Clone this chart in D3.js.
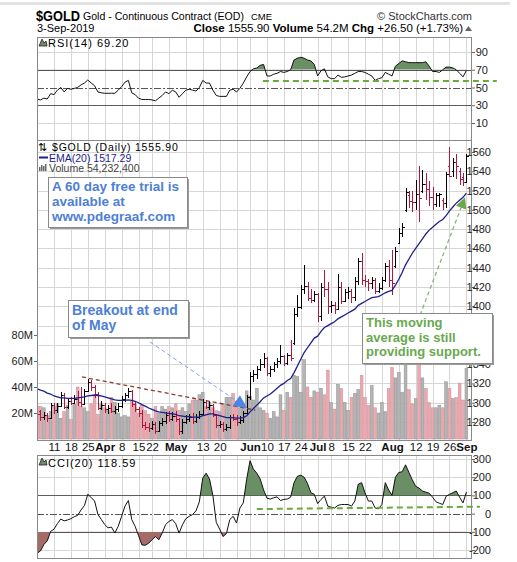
<!DOCTYPE html>
<html>
<head>
<meta charset="utf-8">
<script src="https://cdn.jsdelivr.net/npm/d3@7"></script>
<style>
  body { margin: 0; background: #fff; }
  text { font-family: "Liberation Sans", Arial, sans-serif; }
</style>
</head>
<body>
<svg id="chart" width="517" height="562"></svg>
<script>
// one value per trading day, 4-Mar-2019 .. 3-Sep-2019
var opens = [1294,1291,1285,1287,1284,1298,1292,1297,1308,1296,1302,1300,1304,1301,1299,1312,1322,1316,1309,1295,1298,
  1293,1295,1291,1293,1297,1304,1308,1312,1299,1294,1289,1277,1275,1274,1278,1271,1279,1281,1287,1283,
  1286,1283,1271,1280,1283,1285,1281,1285,1288,1301,1296,1298,1287,1277,1278,1273,1275,1285,1283,1280,
  1282,1289,1306,1328,1330,1335,1340,1346,1331,1335,1340,1343,1348,1341,1350,1362,1392,1399,1418,1421,
  1409,1407,1413,1390,1420,1418,1400,1401,1397,1420,1405,1415,1416,1410,1426,1447,1427,1426,1424,1427,
  1416,1419,1427,1442,1427,1442,1466,1476,1500,1515,1509,1508,1516,1520,1527,1522,1513,1506,1515,1510,
  1507,1545,1540,1550,1540,1534,1529];
var highs = [1296,1292,1290,1289,1300,1300,1300,1311,1310,1305,1306,1308,1312,1316,1314,1325,1324,1318,1311,1302,1300,
  1298,1300,1297,1300,1307,1310,1315,1313,1302,1296,1292,1280,1279,1281,1280,1281,1284,1290,1291,1290,
  1291,1284,1283,1287,1288,1289,1288,1291,1304,1303,1302,1299,1288,1281,1280,1278,1287,1288,1287,1286,
  1291,1308,1332,1334,1338,1345,1352,1347,1338,1342,1346,1360,1350,1352,1365,1398,1412,1422,1443,1425,
  1418,1416,1414,1424,1438,1425,1405,1404,1433,1425,1418,1420,1418,1430,1450,1455,1432,1428,1430,1429,
  1424,1430,1445,1448,1458,1461,1481,1486,1523,1520,1520,1531,1546,1541,1538,1530,1524,1518,1518,1512,
  1539,1565,1554,1558,1543,1538,1558];
var lows = [1282,1281,1282,1280,1283,1288,1289,1296,1294,1294,1298,1299,1297,1296,1298,1311,1312,1305,1292,1292,1289,
  1288,1289,1288,1290,1295,1301,1305,1296,1290,1285,1274,1272,1270,1272,1268,1270,1276,1278,1280,1281,
  1280,1267,1268,1278,1280,1278,1279,1283,1287,1293,1292,1285,1274,1274,1270,1271,1273,1281,1276,1278,
  1279,1287,1303,1321,1325,1333,1336,1328,1327,1332,1336,1340,1338,1339,1343,1360,1389,1397,1413,1405,
  1403,1404,1384,1385,1410,1392,1393,1392,1396,1402,1404,1408,1403,1406,1422,1422,1420,1416,1418,1413,
  1414,1417,1425,1420,1412,1440,1465,1472,1498,1502,1498,1500,1487,1518,1510,1504,1500,1503,1503,1500,
  1502,1534,1534,1532,1526,1525,1528];
var closes = [1288,1285,1287,1284,1298,1292,1297,1308,1296,1302,1300,1304,1301,1299,1312,1322,1316,1309,1295,1298,1293,
  1295,1291,1293,1297,1304,1308,1312,1299,1294,1289,1277,1275,1274,1278,1271,1279,1281,1287,1283,1286,
  1283,1271,1280,1283,1285,1281,1285,1288,1301,1296,1298,1287,1277,1278,1273,1275,1285,1283,1280,1282,
  1289,1306,1328,1330,1335,1340,1346,1331,1335,1340,1343,1348,1341,1350,1346,1392,1399,1418,1421,1409,
  1407,1413,1390,1420,1418,1400,1401,1397,1420,1405,1415,1416,1410,1426,1447,1427,1426,1424,1427,1416,
  1419,1427,1442,1427,1424,1457,1476,1482,1519,1509,1508,1516,1512,1527,1522,1513,1506,1515,1516,1507,
  1537,1535,1550,1546,1532,1529,1555.9];
var volumes = [25,25,24,18,21,25,27,16,21,26,15,27,40,25,24,21,27,33,19,27,24,
  22,32,28,20,17,18,17,29,27,20,26,22,19,16,25,20,25,23,25,24,
  27,22,24,21,27,30,30,34,36,25,28,24,22,21,27,32,32,35,29,24,
  26,37,33,30,39,24,22,20,16,21,17,34,22,36,32,49,48,36,61,40,
  32,37,36,39,34,53,28,23,42,39,28,22,32,35,38,49,32,26,41,24,
  20,28,21,39,55,47,51,36,59,38,27,31,59,47,39,28,24,24,26,24,
  44,39,31,32,43,30,54.2];
var ema20 = [1314.5,1313,1312,1310,1309,1307,1306,1305,1305,1304.5,1304.5,1304.5,1305,1305.5,1306,1307,1307.5,1308,1307.5,1307,1306,
  1305,1304,1303,1302.5,1302.5,1302.5,1303,1302.5,1301.5,1300,1298,1296.5,1294.5,1293,1291.5,1290.5,1290,1289.5,1289,1288.5,
  1288,1286.5,1286,1285.5,1285.5,1285,1285,1285,1286.5,1287.5,1288.5,1288.5,1287.5,1286.5,1285.5,1284.5,1284.5,1284.5,1284,1284,
  1284.5,1286.5,1290.5,1294,1297.5,1301,1305,1307,1309,1312,1315,1318,1320,1323,1325,1331,1338,1345,1352,1357,
  1362,1367,1369,1374,1378,1380,1382,1384,1387,1389,1391,1393,1395,1397,1401,1403,1405,1407,1409,1409.5,
  1410,1412,1414,1415.5,1416.5,1422,1428,1435,1443,1449,1455,1460,1465,1470,1475,1479,1482,1485,1488,1490,
  1494,1499,1503,1507,1510,1513,1517.29];
var rsi14 = [37,36,38,37,43,42,47,50,45,49,48,49,50,53,55,58.5,55,52,45,44,43.5,
  43.5,43.5,43.5,47,51,56,58,44,42,38,36.5,36.5,36.5,36,35,38,41,45,43,47,
  45,39,43,47,48,47,46,50,58,55,55,47,41,40,40,40,47,48,45,49,
  55,62,68,71,72,75,76,63,63,65,66,68,67,68,70,81,83,84,83,81,
  80,76,63,69,71,62,60,60,64,61.5,62,63,64,66,68,68,67,65,63,58,
  60,61,67,65,63,74,77,80,79,78,78,78,78,78,79,74,68,68,67,70,
  73,73,72,70,66,62,69.2];
var cci20 = [-218,-205,-170,-150,-98,-85,-55,-30,-40,-35,-28,-17,-10,20,44,106,88,70,-5,-32,-60,
  -78,-74,-107,-70,-15,41,72,-33,-70,-120,-172,-174,-163,-144,-126,-144,-107,-61,-43,-33,
  -55,-107,-61,-28,-15,-5,15,65,195,222,190,100,-48,-85,-126,-110,-33,-15,-52,31,
  59,189,291,244,222,190,130,85,80,87,92,72,78,80,90,170,205,211,200,165,
  115,106,55,78,96,41,35,31,45,50,50,50,41,69,161,170,115,69,69,31,
  26,50,170,130,100,200,226,230,268,226,185,150,140,124,118,112,90,65,57,50,
  95,106,115,124,90,59,118.59];

var holidays = ["2019-04-19", "2019-05-27", "2019-07-04", "2019-09-02"];
var tickDays = ["2019-03-11","2019-03-18","2019-03-25","2019-04-01","2019-04-08","2019-04-15","2019-04-22",
  "2019-05-01","2019-05-13","2019-05-20","2019-06-03","2019-06-10","2019-06-17","2019-06-24","2019-07-01",
  "2019-07-08","2019-07-15","2019-07-22","2019-08-01","2019-08-12","2019-08-19","2019-08-26","2019-09-03"];
var tickLabels = ["11","18","25","Apr","8","15","22","May","13","20","Jun","10","17","24","Jul",
  "8","15","22","Aug","12","19","26","Sep"];

var priceTicks = [1280,1300,1320,1340,1360,1380,1400,1420,1440,1460,1480,1500,1520,1540,1560];
var volTicks = [20,40,60,80];
var rsiTicks = [10,30,50,70,90];
var cciTicks = [-200,-100,0,100,200,300];

// annotations, in [day index, value]
var rsiSupport = [[66.8, 57.3], [136, 57.3]];
var cciSupport = [[65, 25], [131, 38]];
var emaArrow = [[113.3, 1391], [126.6, 1513]];
var breakoutArrow = [[33.4, 1363], [62.1, 1294.5]];
var downTrend = [[13.3, 1326.7], [64.5, 1292.4]];

var fmt = d3.timeFormat("%Y-%m-%d");
var parse = d3.timeParse("%Y-%m-%d");
var days = d3.timeDay.range(new Date(2019, 2, 4), new Date(2019, 8, 4))
  .filter(d => d.getDay() % 6 != 0 && holidays.indexOf(fmt(d)) < 0)
  .map(fmt);

var left = 37, right = 472;
var rsiP = {top: 37, bottom: 140}, mainP = {top: 140, bottom: 440}, cciP = {top: 455, bottom: 558};

var svg = d3.select("#chart");
var defs = svg.append("defs");

var x = d3.scaleLinear().domain([0, days.length - 1]).range([37.1, 466.4]);
var rsiY = d3.scaleLinear().domain([10, 90]).range([123, 52]);
var priceY = d3.scaleLinear().domain([1280, 1560]).range([422, 152]);
var volY = d3.scaleLinear().domain([0, 80]).range([439, 335]);
var cciY = d3.scaleLinear().domain([-200, 300]).range([550, 459]);

var weekStarts = d3.range(1, days.length).filter(i =>
  +d3.timeMonday.floor(parse(days[i])) != +d3.timeMonday.floor(parse(days[i - 1])));

var up = (i) => i == 0 ? closes[0] >= opens[0] : closes[i] >= closes[i - 1];

// header
svg.append("rect").attr("x", 0).attr("y", 2).attr("width", 510).attr("height", 3).attr("fill", "#e3e3e3");
svg.append("text").attr("x", 36).attr("y", 21).attr("font-size", 15).attr("font-weight", "bold")
  .attr("textLength", 44).attr("lengthAdjust", "spacingAndGlyphs").text("$GOLD");
svg.append("text").attr("x", 83).attr("y", 20).attr("font-size", 11.5)
  .attr("textLength", 161).attr("lengthAdjust", "spacingAndGlyphs").text("Gold - Continuous Contract (EOD)");
svg.append("text").attr("x", 251).attr("y", 20).attr("font-size", 9.5).text("CME");
svg.append("text").attr("x", 472).attr("y", 20).attr("font-size", 11).attr("text-anchor", "end")
  .attr("fill", "#333").text("\u00a9 StockCharts.com");
svg.append("text").attr("x", 37).attr("y", 32).attr("font-size", 11).text("3-Sep-2019");
var hdr = svg.append("text").attr("x", 463).attr("y", 32).attr("font-size", 11.5).attr("text-anchor", "end");
hdr.append("tspan").attr("font-weight", "bold").text("Close ");
hdr.append("tspan").text("1555.90  ");
hdr.append("tspan").attr("font-weight", "bold").text("Volume ");
hdr.append("tspan").text("54.2M  ");
hdr.append("tspan").attr("font-weight", "bold").text("Chg ");
hdr.append("tspan").text("+26.50 (+1.73%)");
svg.append("path").attr("d", "M465,31 L468.5,26 L472,31 Z").attr("fill", "#666");

function panel(p, id) {
  defs.append("clipPath").attr("id", id).append("rect")
    .attr("x", left).attr("y", p.top).attr("width", right - left).attr("height", p.bottom - p.top);
  var g = svg.append("g");
  g.append("g").selectAll("line").data(weekStarts).join("line")
    .attr("x1", i => Math.round(x(i)) + 0.5).attr("x2", i => Math.round(x(i)) + 0.5)
    .attr("y1", p.top).attr("y2", p.bottom)
    .attr("stroke", "#d6d6d6").attr("stroke-width", 1);
  return g;
}

function hline(g, y, kind) {
  var l = g.append("line").attr("x1", left).attr("x2", right)
    .attr("y1", Math.round(y) + 0.5).attr("y2", Math.round(y) + 0.5);
  if (kind == "light") l.attr("stroke", "#d6d6d6");
  else if (kind == "dash") l.attr("stroke", "#555").attr("stroke-dasharray", "7,2,2,2");
  else l.attr("stroke", "#555");
}

function border(p) {
  svg.append("rect").attr("x", left + 0.5).attr("y", p.top + 0.5)
    .attr("width", right - left - 1).attr("height", p.bottom - p.top)
    .attr("fill", "none").attr("stroke", "#888");
}

function rightAxis(scale, ticks, edge) {
  var ax = svg.append("g").attr("transform", "translate(" + right + ",0)")
    .call(d3.axisRight(scale).tickValues(ticks).tickSize(3).tickFormat(d => d));
  ax.select(".domain").remove();
  ax.selectAll("line").attr("stroke", "#666");
  ax.selectAll("text").attr("x", edge).attr("text-anchor", "end")
    .attr("font-size", 11).attr("fill", "#222").attr("font-family", "Liberation Sans, Arial, sans-serif");
}

function mountain(x0, y0) {
  svg.append("path").attr("d", "M" + x0 + "," + (y0 + 7) + " L" + (x0 + 3) + "," + y0 + " L" + (x0 + 5) + "," + (y0 + 4) +
    " L" + (x0 + 7) + "," + (y0 + 2) + " L" + (x0 + 8) + "," + (y0 + 7) + " Z")
    .attr("fill", "#6a8f64").attr("stroke", "#222").attr("stroke-width", 0.8);
}

function osc(g, data, yS, hi, lo, clipId, p) {
  defs.append("clipPath").attr("id", clipId + "hi").append("rect")
    .attr("x", left).attr("y", p.top).attr("width", right - left).attr("height", yS(hi) - p.top);
  defs.append("clipPath").attr("id", clipId + "lo").append("rect")
    .attr("x", left).attr("y", yS(lo)).attr("width", right - left).attr("height", p.bottom - yS(lo));
  var cg = g.append("g").attr("clip-path", "url(#" + clipId + ")");
  cg.append("g").attr("clip-path", "url(#" + clipId + "hi)").append("path")
    .attr("d", d3.area().x((d, i) => x(i)).y0(yS(hi)).y1(d => yS(d))(data))
    .attr("fill", "#6a8f64");
  cg.append("g").attr("clip-path", "url(#" + clipId + "lo)").append("path")
    .attr("d", d3.area().x((d, i) => x(i)).y0(yS(lo)).y1(d => yS(d))(data))
    .attr("fill", "#a56b66");
  cg.append("path").attr("d", d3.line().x((d, i) => x(i)).y(d => yS(d))(data))
    .attr("fill", "none").attr("stroke", "#111").attr("stroke-width", 1);
}

function dashed(pts, xs, ys, color, width, dash) {
  return svg.append("line")
    .attr("x1", xs(pts[0][0])).attr("y1", ys(pts[0][1]))
    .attr("x2", xs(pts[1][0])).attr("y2", ys(pts[1][1]))
    .attr("stroke", color).attr("stroke-width", width).attr("stroke-dasharray", dash);
}

function arrowHead(pts, len, half, color) {
  var x0 = x(pts[0][0]), y0 = priceY(pts[0][1]), x1 = x(pts[1][0]), y1 = priceY(pts[1][1]);
  var d = Math.hypot(x1 - x0, y1 - y0), ux = (x1 - x0) / d, uy = (y1 - y0) / d;
  var bx = x1 - ux * len, by = y1 - uy * len;
  svg.append("path").attr("d", "M" + x1 + "," + y1 + " L" + (bx - uy * half) + "," + (by + ux * half) +
    " L" + (bx + uy * half) + "," + (by - ux * half) + " Z").attr("fill", color);
}

// RSI panel
var rg = panel(rsiP, "clipRsi");
hline(rg, rsiY(90), "light");
hline(rg, rsiY(10), "light");
hline(rg, rsiY(70));
hline(rg, rsiY(30));
hline(rg, rsiY(50), "dash");
osc(rg, rsi14, rsiY, 70, 30, "clipRsi", rsiP);
border(rsiP);
rightAxis(rsiY, rsiTicks, 16);
mountain(39, 39);
svg.append("text").attr("x", 48).attr("y", 46.5).attr("font-size", 11).attr("letter-spacing", 1)
  .text("RSI(14) 69.20");

// price + volume panel
var mg = panel(mainP, "clipMain");
priceTicks.forEach(v => hline(mg, priceY(v), "light"));
var inner = mg.append("g").attr("clip-path", "url(#clipMain)");
inner.append("g").selectAll("rect").data(volumes).join("rect")
  .attr("x", (d, i) => x(i) - 1.4).attr("width", 2.8)
  .attr("y", d => volY(d)).attr("height", d => volY(0) - volY(d))
  .attr("fill", (d, i) => up(i) ? "#b4b4b4" : "#eaa9b0")
  .attr("stroke", (d, i) => up(i) ? "#8e8e8e" : "#cf8d96").attr("stroke-width", 0.5);

var barG = inner.append("g").attr("shape-rendering", "crispEdges");
barG.selectAll("path").data(closes).join("path")
  .attr("d", (c, i) => {
    var xx = Math.round(x(i)) + 0.5;
    return "M" + xx + "," + priceY(highs[i]) + "V" + priceY(lows[i]) +
      "M" + (xx - 2) + "," + Math.round(priceY(opens[i])) + "H" + xx +
      "M" + xx + "," + Math.round(priceY(c)) + "H" + (xx + 2);
  })
  .attr("fill", "none").attr("stroke", (c, i) => up(i) ? "#000" : "#b2183f").attr("stroke-width", 1);

inner.append("path").attr("d", d3.line().x((d, i) => x(i)).y(d => priceY(d))(ema20))
  .attr("fill", "none").attr("stroke", "#1e1e8c").attr("stroke-width", 1.3);
border(mainP);
rightAxis(priceY, priceTicks, 19);

var va = svg.append("g").attr("transform", "translate(" + left + ",0)")
  .call(d3.axisLeft(volY).tickValues(volTicks).tickSize(3).tickPadding(1).tickFormat(d => d + "M"));
va.select(".domain").remove();
va.selectAll("line").attr("stroke", "#666");
va.selectAll("text").attr("font-size", 11).attr("fill", "#222").attr("font-family", "Liberation Sans, Arial, sans-serif");

// legend
svg.append("text").attr("x", 38).attr("y", 151).attr("font-size", 11).attr("font-family", "DejaVu Sans")
  .text("\u21c5");
svg.append("text").attr("x", 52).attr("y", 151).attr("font-size", 10.5).attr("letter-spacing", 0.8)
  .text("$GOLD (Daily) 1555.90");
svg.append("line").attr("x1", 39).attr("x2", 48).attr("y1", 157.5).attr("y2", 157.5)
  .attr("stroke", "#1e1e8c").attr("stroke-width", 2);
svg.append("text").attr("x", 49).attr("y", 161.5).attr("font-size", 10.5).attr("fill", "#1e1e8c")
  .text("EMA(20) 1517.29");
[[39, 4], [41, 6], [43, 5], [45, 7]].forEach(b => svg.append("rect").attr("x", b[0]).attr("y", 171 - b[1])
  .attr("width", 1.5).attr("height", b[1]).attr("fill", "#666"));
svg.append("text").attr("x", 49).attr("y", 171.5).attr("font-size", 10.5).attr("fill", "#444")
  .text("Volume 54,232,400");

// x axis
var tickIdx = tickDays.map(d => days.indexOf(d));
var xa = svg.append("g").attr("transform", "translate(0," + mainP.bottom + ")")
  .call(d3.axisBottom(x).tickValues(tickIdx).tickSize(0).tickPadding(3).tickFormat((d, k) => tickLabels[k]));
xa.select(".domain").remove();
xa.selectAll("text").attr("font-size", 11.5).attr("fill", "#111")
  .attr("font-family", "Liberation Sans, Arial, sans-serif")
  .attr("font-weight", (d, k) => isNaN(+tickLabels[k]) ? "bold" : "normal");

// CCI panel
var cg = panel(cciP, "clipCci");
hline(cg, cciY(300), "light");
hline(cg, cciY(200), "light");
hline(cg, cciY(-200), "light");
hline(cg, cciY(100));
hline(cg, cciY(-100));
hline(cg, cciY(0), "dash");
osc(cg, cci20, cciY, 100, -100, "clipCci", cciP);
border(cciP);
rightAxis(cciY, cciTicks, 19);
mountain(39, 458);
svg.append("text").attr("x", 48).attr("y", 467).attr("font-size", 11).attr("letter-spacing", 1)
  .text("CCI(20) 118.59");

// annotations
dashed(downTrend, x, priceY, "#8e3b2e", 1.3, "4,3");
dashed(rsiSupport, x, rsiY, "#6aab3c", 2, "6,4");
dashed(cciSupport, x, cciY, "#6aab3c", 2, "6,4");
dashed(breakoutArrow, x, priceY, "#7aa3e6", 1, "4,3");
arrowHead(breakoutArrow, 13, 6.5, "#4a86e8");
dashed(emaArrow, x, priceY, "#8fae86", 1.3, "4,3");
arrowHead(emaArrow, 11, 5.5, "#6aa84f");

function note(bx, by, bw, bh, lines, color, size, tx, ty, lh) {
  svg.append("rect").attr("x", bx + 2).attr("y", by + 2).attr("width", bw).attr("height", bh).attr("fill", "#9a9a9a");
  svg.append("rect").attr("x", bx + 0.5).attr("y", by + 0.5).attr("width", bw).attr("height", bh)
    .attr("fill", "#fff").attr("stroke", "#8a8a8a");
  svg.append("g").selectAll("text").data(lines).join("text")
    .attr("x", tx).attr("y", (d, k) => ty + k * lh)
    .attr("font-size", size).attr("font-weight", "bold").attr("fill", color).text(d => d);
}
note(48, 177, 139, 50, ["A 60 day free trial is", "available at", "www.pdegraaf.com"], "#4e7fd4", 13.5, 52, 191, 14.8);
note(68, 300, 120, 37, ["Breakout at end", "of May"], "#4e7fd4", 14, 72, 315, 15);
note(362, 313, 130, 50, ["This moving", "average is still", "providing support."], "#6aa84f", 13, 366, 327, 14.6);
</script>
</body>
</html>
